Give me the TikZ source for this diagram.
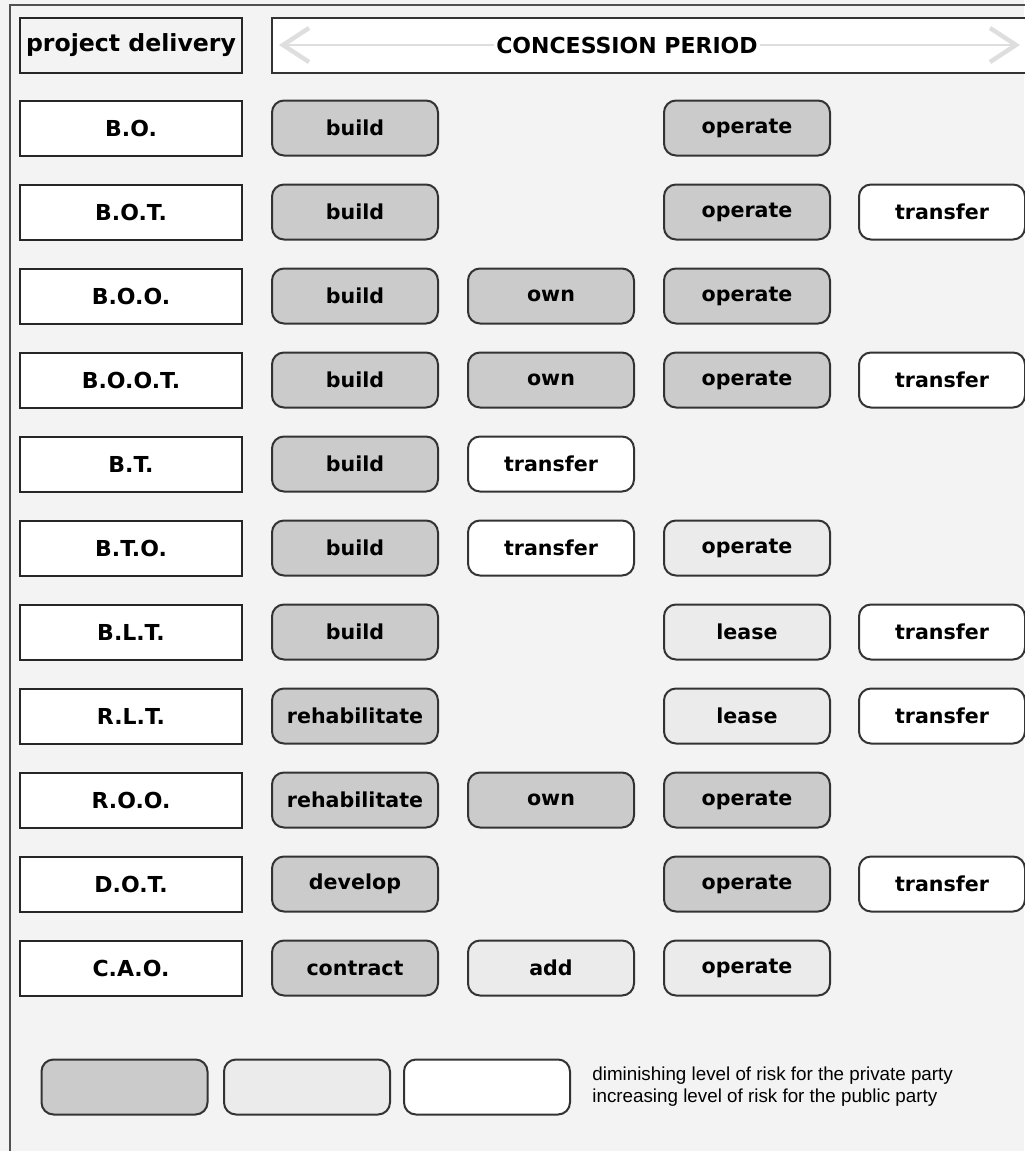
\documentclass[tikz,border=0pt]{standalone}
\usepackage{fontspec}
\setmainfont{DejaVu Sans}
\newfontfamily\legendfont{Liberation Sans}
\usetikzlibrary{arrows.meta}
\definecolor{bgc}{HTML}{F3F3F3}
\definecolor{darkc}{HTML}{CBCBCB}
\definecolor{lightc}{HTML}{EBEBEB}
\definecolor{framec}{HTML}{505050}
\definecolor{arrowc}{HTML}{DEDEDE}
\tikzset{
  lbl/.style={draw=black!85, line width=1pt, fill=white, minimum width=111pt, minimum height=27.5pt, inner sep=0pt, font=\bfseries\fontsize{11}{13}\selectfont},
  pbox/.style={draw=black!80, line width=1pt, rounded corners=6pt, minimum width=83pt, minimum height=27.5pt, inner sep=0pt, font=\bfseries\fontsize{10.3}{12}\selectfont},
  dk/.style={pbox, fill=darkc},
  lt/.style={pbox, fill=lightc},
  wt/.style={pbox, fill=white},
}
\begin{document}
\begin{tikzpicture}[x=0.5pt,y=-0.5pt]
\useasboundingbox (0,0) rectangle (1024,1151);
\fill[bgc] (0,0) rectangle (1024,1151);
% outer frame
\draw[framec, line width=1.2pt] (10,1160) -- (10,5) -- (1040,5);
% header
\node[draw=black!85, line width=1pt, fill=bgc, minimum width=111pt, minimum height=27.5pt, inner sep=0pt, font=\bfseries\fontsize{11.8}{13}\selectfont] (hpd) at (131,45.5) {project delivery};
\draw[black!80, line width=1.2pt, fill=white] (1040,18) -- (272,18) -- (272,73) -- (1040,73);
\coordinate (al) at (279,45);
\coordinate (ar) at (1020,45);
\draw[arrowc, line width=1.3pt, {Straight Barb[length=13pt,width=17pt,line width=2.2pt]}-{Straight Barb[length=13pt,width=17pt,line width=2.2pt]}] (al) -- (ar);
\node[fill=white, inner sep=1pt, font=\bfseries\fontsize{11}{13}\selectfont] (hcp) at (627,45) {CONCESSION PERIOD};
% rows
\foreach \n/\t/\y in {r1/B.O./128, r2/B.O.T./212, r3/B.O.O./296, r4/B.O.O.T./380, r5/B.T./464, r6/B.T.O./548, r7/B.L.T./632, r8/R.L.T./716, r9/R.O.O./800, r10/D.O.T./884, r11/C.A.O./968}
  \node[lbl] (\n) at (131,\y) {\t};
% row 1
\node[dk] (r1a) at (355,128) {build};
\node[dk] (r1c) at (747,128) {operate};
% row 2
\node[dk] (r2a) at (355,212) {build};
\node[dk] (r2c) at (747,212) {operate};
\node[wt] (r2d) at (942,212) {transfer};
% row 3
\node[dk] (r3a) at (355,296) {build};
\node[dk] (r3b) at (551,296) {own};
\node[dk] (r3c) at (747,296) {operate};
% row 4
\node[dk] (r4a) at (355,380) {build};
\node[dk] (r4b) at (551,380) {own};
\node[dk] (r4c) at (747,380) {operate};
\node[wt] (r4d) at (942,380) {transfer};
% row 5
\node[dk] (r5a) at (355,464) {build};
\node[wt] (r5b) at (551,464) {transfer};
% row 6
\node[dk] (r6a) at (355,548) {build};
\node[wt] (r6b) at (551,548) {transfer};
\node[lt] (r6c) at (747,548) {operate};
% row 7
\node[dk] (r7a) at (355,632) {build};
\node[lt] (r7c) at (747,632) {lease};
\node[wt] (r7d) at (942,632) {transfer};
% row 8
\node[dk] (r8a) at (355,716) {rehabilitate};
\node[lt] (r8c) at (747,716) {lease};
\node[wt] (r8d) at (942,716) {transfer};
% row 9
\node[dk] (r9a) at (355,800) {rehabilitate};
\node[dk] (r9b) at (551,800) {own};
\node[dk] (r9c) at (747,800) {operate};
% row 10
\node[dk] (r10a) at (355,884) {develop};
\node[dk] (r10c) at (747,884) {operate};
\node[wt] (r10d) at (942,884) {transfer};
% row 11
\node[dk] (r11a) at (355,968) {contract};
\node[lt] (r11b) at (551,968) {add};
\node[lt] (r11c) at (747,968) {operate};
% legend
\node[dk] (lg1) at (124.5,1087) {};
\node[lt] (lg2) at (307,1087) {};
\node[wt] (lg3) at (487,1087) {};
\node[anchor=west, align=left, inner sep=0pt, font=\legendfont\fontsize{9.4}{11}\selectfont] (lgt) at (592,1087) {diminishing level of risk for the private party\\increasing level of risk for the public party};
\end{tikzpicture}
\end{document}
